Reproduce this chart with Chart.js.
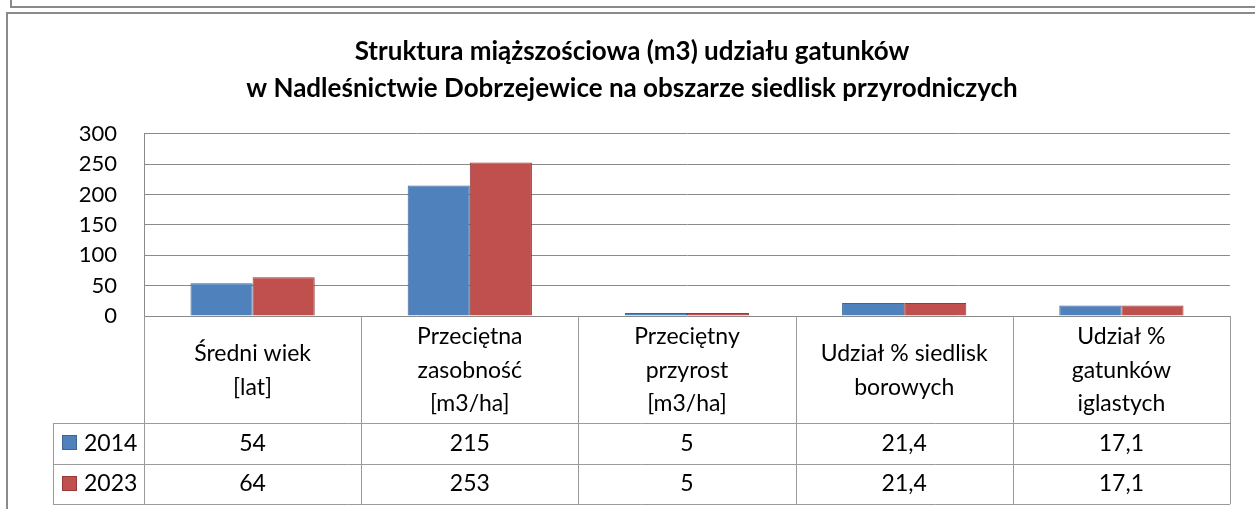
<!DOCTYPE html>
<html lang="pl">
<head>
<meta charset="utf-8">
<title>Struktura miąższościowa</title>
<script src="https://cdn.jsdelivr.net/npm/chart.js@4/dist/chart.umd.min.js"></script>
<style>
  html, body { margin: 0; padding: 0; background: #fff; overflow: hidden; }
  #wykres { position: absolute; left: 0; top: 0; }
  .ramka { position: absolute; border: 2px solid #8a8a8a; pointer-events: none; }
</style>
</head>
<body>
<canvas id="wykres" width="1255" height="509"></canvas>
<div class="ramka" style="left:10px; top:-30px; width:1300px; height:34px;"></div>
<div class="ramka" style="left:6px; top:12px; width:1300px; height:600px;"></div>
<script>
const tytul = [
  'Struktura miąższościowa (m3) udziału gatunków',
  'w Nadleśnictwie Dobrzejewice na obszarze siedlisk przyrodniczych'
];
const kategorie = [
  ['Średni wiek', '[lat]'],
  ['Przeciętna', 'zasobność', '[m3/ha]'],
  ['Przeciętny', 'przyrost', '[m3/ha]'],
  ['Udział % siedlisk', 'borowych'],
  ['Udział %', 'gatunków', 'iglastych']
];
const serie = ['2014', '2023'];
const wartosci2014 = [54, 215, 5, 21.4, 17.1];
const wartosci2023 = [64, 253, 5, 21.4, 17.1];
const kolory = ['#4f81bd', '#c0504d'];
const obramowania = ['#3b6698', '#923a37'];

const czcionka = 'Lato, "Open Sans", sans-serif';
const kolorLinii = '#9a9a9a';

function formatujLiczbe(v) {
  return String(v).replace('.', ',');
}

// tabela danych pod wykresem, rysowana wg skali kategorii
const tabelaDanych = {
  id: 'tabelaDanych',
  afterDraw(chart) {
    const { ctx, chartArea } = chart;
    const skalaX = chart.scales.x;
    const n = kategorie.length;
    const szer = (chartArea.right - chartArea.left) / n;
    const gora = chartArea.bottom;
    const wysNaglowka = 107;
    const wysWiersza = 40.5;
    const lewaLegendy = 53;
    const dolNaglowka = gora + wysNaglowka;
    const dol = dolNaglowka + serie.length * wysWiersza;

    ctx.save();
    ctx.strokeStyle = kolorLinii;
    ctx.lineWidth = 1;
    ctx.beginPath();
    for (let i = 0; i <= n; i++) {
      const x = Math.round(chartArea.left + i * szer) + 0.5;
      ctx.moveTo(x, gora);
      ctx.lineTo(x, dol);
    }
    for (let r = 0; r <= serie.length; r++) {
      const y = Math.round(dolNaglowka + r * wysWiersza) + 0.5;
      ctx.moveTo(lewaLegendy, y);
      ctx.lineTo(chartArea.right, y);
    }
    ctx.moveTo(lewaLegendy + 0.5, dolNaglowka);
    ctx.lineTo(lewaLegendy + 0.5, dol);
    ctx.stroke();

    ctx.fillStyle = '#000';
    ctx.font = `23px ${czcionka}`;
    ctx.textAlign = 'center';
    ctx.textBaseline = 'middle';
    const wysLinii = 33.5;
    kategorie.forEach((linie, i) => {
      const x = skalaX.getPixelForValue(i);
      const srodek = gora + wysNaglowka / 2 + 1;
      const start = srodek - (linie.length - 1) * wysLinii / 2;
      linie.forEach((t, j) => ctx.fillText(t, x, start + j * wysLinii));
    });

    const dane = [wartosci2014, wartosci2023];
    dane.forEach((wiersz, r) => {
      const y = dolNaglowka + r * wysWiersza + wysWiersza / 2;
      ctx.textAlign = 'center';
      ctx.fillStyle = '#000';
      wiersz.forEach((v, i) => ctx.fillText(formatujLiczbe(v), skalaX.getPixelForValue(i), y));

      ctx.fillStyle = kolory[r];
      ctx.strokeStyle = obramowania[r];
      ctx.fillRect(62, Math.round(y - 8), 15, 15);
      ctx.strokeRect(62.5, Math.round(y - 8) + 0.5, 14, 14);
      ctx.fillStyle = '#000';
      ctx.textAlign = 'left';
      ctx.fillText(serie[r], 84, y);
    });
    ctx.restore();
  }
};

const ctx = document.getElementById('wykres').getContext('2d');

new Chart(ctx, {
  type: 'bar',
  data: {
    labels: kategorie.map(k => k.join(' ')),
    datasets: serie.map((nazwa, i) => ({
      label: nazwa,
      data: i === 0 ? wartosci2014 : wartosci2023,
      backgroundColor: kolory[i],
      borderColor: obramowania[i],
      borderWidth: 1,
      barPercentage: 1,
      categoryPercentage: 0.572
    }))
  },
  options: {
    responsive: false,
    animation: false,
    layout: { padding: { left: 34, right: 25, top: 0, bottom: 193 } },
    plugins: {
      legend: { display: false },
      tooltip: { enabled: false },
      title: {
        display: true,
        text: tytul,
        color: '#000',
        font: { family: czcionka, size: 26, weight: 'bold', lineHeight: 1.42 },
        padding: { top: 33.5, bottom: 26.5 }
      }
    },
    scales: {
      x: {
        display: false
      },
      y: {
        min: 0,
        max: 300,
        ticks: {
          stepSize: 50,
          autoSkip: false,
          color: '#000',
          padding: 27,
          font: { family: czcionka, size: 22, lineHeight: 1 }
        },
        grid: { color: '#8a8a8a', drawTicks: false },
        border: { color: '#8a8a8a' },
        afterFit: s => { s.width = 110; }
      }
    }
  },
  plugins: [tabelaDanych]
});
</script>
</body>
</html>
